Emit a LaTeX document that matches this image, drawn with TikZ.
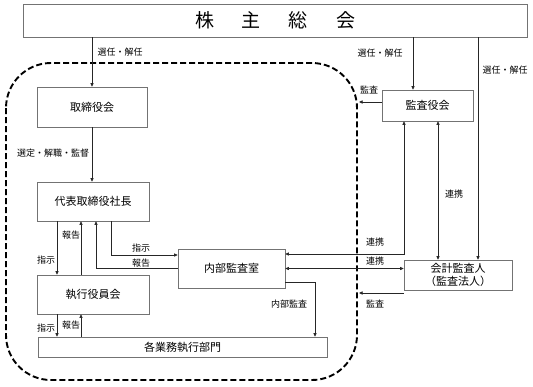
\documentclass[tikz,border=0pt]{standalone}
\usepackage{fontspec}
\setmainfont{Noto Sans CJK JP}
\usetikzlibrary{arrows.meta}
\tikzset{
  box/.style={draw=black!55, line width=0.7pt, fill=white, inner sep=0pt, align=center, font=\fontsize{11}{14}\selectfont},
  conn/.style={draw=black!85, line width=0.7pt, -{Triangle[length=3.6pt,width=3.2pt]}},
  conn2/.style={draw=black!85, line width=0.7pt, {Triangle[length=3.6pt,width=3.2pt]}-{Triangle[length=3.6pt,width=3.2pt]}},
  lbl/.style={font=\fontsize{9}{10}\selectfont, inner sep=0pt},
  boundary/.style={draw=black, line width=1.9pt, dash pattern=on 6pt off 3pt, rounded corners=45pt}
}
\begin{document}
\begin{tikzpicture}[x=1pt,y=-1pt]
\useasboundingbox (0,0) rectangle (533,386);
% boundary
\draw[boundary] (6,63) rectangle (357,380);
% boxes
\node[box, minimum width=504pt, minimum height=33pt, font=\fontsize{19}{22}\selectfont] (kabu) at (275,20.5) {株\hspace{28pt}主\hspace{28pt}総\hspace{28pt}会};
\node[box, minimum width=110pt, minimum height=40pt] (tori) at (92,107) {取締役会};
\node[box, minimum width=112pt, minimum height=39pt] (daihyo) at (93,201.5) {代表取締役社長};
\node[box, minimum width=112pt, minimum height=39pt] (shikko) at (93,294.5) {執行役員会};
\node[box, minimum width=289pt, minimum height=20pt] (kaku) at (182.5,347) {各業務執行部門};
\node[box, minimum width=107pt, minimum height=39pt] (naibu) at (231.5,268.5) {内部監査室};
\node[box, minimum width=91pt, minimum height=31pt] (kansa) at (427.5,105.5) {監査役会};
\node[box, minimum width=108pt, minimum height=30pt, font=\fontsize{11}{13}\selectfont] (kaikei) at (458,275) {会計監査人\\（監査法人）};
% helper coordinates
\coordinate (xA) at (92,0);
\coordinate (xB) at (413,0);
\coordinate (xC) at (478,0);
\coordinate (xE) at (57,0);
\coordinate (xF) at (81,0);
\coordinate (xG) at (111,0);
\coordinate (xH) at (96,0);
\coordinate (xI) at (315,0);
\coordinate (xJ) at (404,0);
\coordinate (xK) at (438,0);
\coordinate (yA) at (0,255);
\coordinate (yC) at (0,282);
\coordinate (yD) at (0,254);
\coordinate (bR1) at (359,293);
\coordinate (bR2) at (359,102);
% connectors
\draw[conn] (kabu.south -| xA) -- (tori.north -| xA);
\draw[conn] (kabu.south -| xB) -- (kansa.north -| xB);
\draw[conn] (kabu.south -| xC) -- (kaikei.north -| xC);
\draw[conn] (tori.south -| xA) -- (daihyo.north -| xA);
\draw[conn] (daihyo.south -| xE) -- (shikko.north -| xE);
\draw[conn] (shikko.north -| xF) -- (daihyo.south -| xF);
\draw[conn] (shikko.south -| xE) -- (kaku.north -| xE);
\draw[conn] (kaku.north -| xF) -- (shikko.south -| xF);
\draw[conn] (daihyo.south -| xG) |- (naibu.west |- yA);
\draw[conn] (naibu.west) -| (daihyo.south -| xH);
\draw[conn] (naibu.east |- yC) -| (kaku.north -| xI);
\draw[conn2] (kansa.south -| xJ) |- (naibu.east |- yD);
\draw[conn2] (kansa.south -| xK) -- (kaikei.north -| xK);
\draw[conn2] (naibu.east) -- (naibu.east -| kaikei.west);
\draw[conn] (kaikei.west |- bR1) -- (bR1);
\draw[conn] (kansa.west |- bR2) -- (bR2);
% labels
\node[lbl] (l1) at (120,52) {選任・解任};
\node[lbl] (l2) at (380,53) {選任・解任};
\node[lbl] (l3) at (505,70) {選任・解任};
\node[lbl] (l4) at (369,90) {監査};
\node[lbl] (l5) at (53,153) {選定・解職・監督};
\node[lbl] (l6) at (71,235) {報告};
\node[lbl] (l7) at (46,260) {指示};
\node[lbl] (l8) at (141,248) {指示};
\node[lbl] (l9) at (141,263) {報告};
\node[lbl] (l10) at (46,328) {指示};
\node[lbl] (l11) at (71,325) {報告};
\node[lbl] (l12) at (289,304) {内部監査};
\node[lbl] (l13) at (375,242) {連携};
\node[lbl] (l14) at (375,261) {連携};
\node[lbl] (l15) at (375,304) {監査};
\node[lbl] (l16) at (454,194) {連携};
\end{tikzpicture}
\end{document}
